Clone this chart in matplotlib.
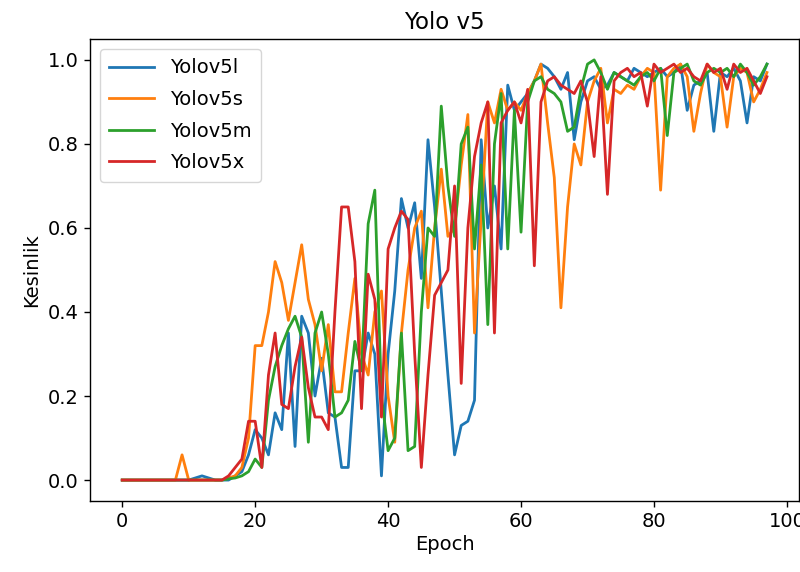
import matplotlib
matplotlib.use("Agg")
import matplotlib.pyplot as plt

epochs = list(range(98))

yolov5l = [0.0, 0.0, 0.0, 0.0, 0.0, 0.0, 0.0, 0.0, 0.0, 0.0,
           0.0, 0.005, 0.01, 0.005, 0.0, 0.0, 0.0, 0.01, 0.02, 0.06,
           0.12, 0.10, 0.06, 0.16, 0.12, 0.35, 0.08, 0.39, 0.35, 0.20,
           0.29, 0.16, 0.15, 0.03, 0.03, 0.26, 0.26, 0.35, 0.30, 0.01,
           0.30, 0.45, 0.67, 0.60, 0.66, 0.48, 0.81, 0.65, 0.45, 0.25,
           0.06, 0.13, 0.14, 0.19, 0.81, 0.60, 0.70, 0.55, 0.94, 0.88,
           0.90, 0.92, 0.95, 0.99, 0.98, 0.96, 0.93, 0.97, 0.81, 0.90,
           0.95, 0.96, 0.93, 0.94, 0.97, 0.96, 0.95, 0.98, 0.97, 0.96,
           0.97, 0.98, 0.96, 0.97, 0.99, 0.88, 0.94, 0.95, 0.97, 0.83,
           0.97, 0.96, 0.98, 0.95, 0.85, 0.96, 0.95, 0.99]

yolov5s = [0.0, 0.0, 0.0, 0.0, 0.0, 0.0, 0.0, 0.0, 0.0, 0.06,
           0.0, 0.0, 0.0, 0.0, 0.0, 0.0, 0.005, 0.01, 0.03, 0.10,
           0.32, 0.32, 0.40, 0.52, 0.47, 0.38, 0.47, 0.56, 0.43, 0.37,
           0.26, 0.37, 0.21, 0.21, 0.35, 0.48, 0.30, 0.25, 0.40, 0.45,
           0.20, 0.09, 0.35, 0.50, 0.60, 0.64, 0.41, 0.60, 0.74, 0.58,
           0.60, 0.75, 0.87, 0.35, 0.62, 0.90, 0.85, 0.93, 0.88, 0.90,
           0.88, 0.92, 0.95, 0.99, 0.85, 0.72, 0.41, 0.65, 0.80, 0.75,
           0.90, 0.95, 0.98, 0.85, 0.93, 0.92, 0.94, 0.93, 0.96, 0.98,
           0.97, 0.69, 0.96, 0.98, 0.99, 0.96, 0.83, 0.92, 0.99, 0.97,
           0.96, 0.84, 0.96, 0.98, 0.97, 0.90, 0.93, 0.97]

yolov5m = [0.0, 0.0, 0.0, 0.0, 0.0, 0.0, 0.0, 0.0, 0.0, 0.0,
           0.0, 0.0, 0.0, 0.0, 0.0, 0.0, 0.003, 0.005, 0.01, 0.02,
           0.05, 0.03, 0.19, 0.27, 0.32, 0.36, 0.39, 0.34, 0.09, 0.35,
           0.40, 0.30, 0.15, 0.16, 0.19, 0.33, 0.26, 0.61, 0.69, 0.20,
           0.07, 0.10, 0.35, 0.07, 0.08, 0.40, 0.60, 0.58, 0.89, 0.70,
           0.58, 0.80, 0.84, 0.55, 0.75, 0.37, 0.80, 0.92, 0.55, 0.88,
           0.59, 0.90, 0.95, 0.96, 0.93, 0.92, 0.90, 0.83, 0.84, 0.93,
           0.99, 1.0, 0.97, 0.93, 0.97, 0.96, 0.95, 0.94, 0.96, 0.97,
           0.95, 0.98, 0.82, 0.97, 0.98, 0.99, 0.95, 0.94, 0.97, 0.98,
           0.97, 0.98, 0.96, 0.99, 0.97, 0.94, 0.96, 0.99]

yolov5x = [0.0, 0.0, 0.0, 0.0, 0.0, 0.0, 0.0, 0.0, 0.0, 0.0,
           0.0, 0.0, 0.0, 0.0, 0.0, 0.0, 0.01, 0.03, 0.05, 0.14,
           0.14, 0.03, 0.25, 0.35, 0.18, 0.17, 0.27, 0.34, 0.22, 0.15,
           0.15, 0.12, 0.40, 0.65, 0.65, 0.52, 0.17, 0.49, 0.43, 0.15,
           0.55, 0.60, 0.64, 0.62, 0.30, 0.03, 0.25, 0.44, 0.47, 0.50,
           0.70, 0.23, 0.60, 0.77, 0.85, 0.90, 0.35, 0.85, 0.88, 0.90,
           0.85, 0.93, 0.51, 0.90, 0.95, 0.96, 0.94, 0.93, 0.92, 0.95,
           0.90, 0.77, 0.96, 0.68, 0.95, 0.97, 0.98, 0.96, 0.97, 0.89,
           0.99, 0.97, 0.98, 0.99, 0.97, 0.98, 0.96, 0.95, 0.99, 0.97,
           0.98, 0.93, 0.99, 0.97, 0.98, 0.95, 0.92, 0.96]

series = [("Yolov5l", yolov5l), ("Yolov5s", yolov5s),
          ("Yolov5m", yolov5m), ("Yolov5x", yolov5x)]

plt.rcParams.update({
    "font.size": 14,
    "axes.linewidth": 1.0,
    "xtick.major.size": 4.5,
    "ytick.major.size": 4.5,
    "xtick.major.width": 1.0,
    "ytick.major.width": 1.0,
})

fig, ax = plt.subplots(figsize=(8, 5.72), dpi=100)
for name, vals in series:
    ax.plot(epochs, vals, label=name, linewidth=2.0)

ax.set_title("Yolo v5", fontsize=16.5, pad=7)
ax.set_xlabel("Epoch", labelpad=3)
ax.set_ylabel("Kesinlik", labelpad=5)
ax.legend(loc="upper left", handlelength=2.3, labelspacing=0.65,
          borderpad=0.5)

fig.subplots_adjust(left=0.1125, right=0.999, bottom=0.124, top=0.932)
fig.savefig("out.png")
